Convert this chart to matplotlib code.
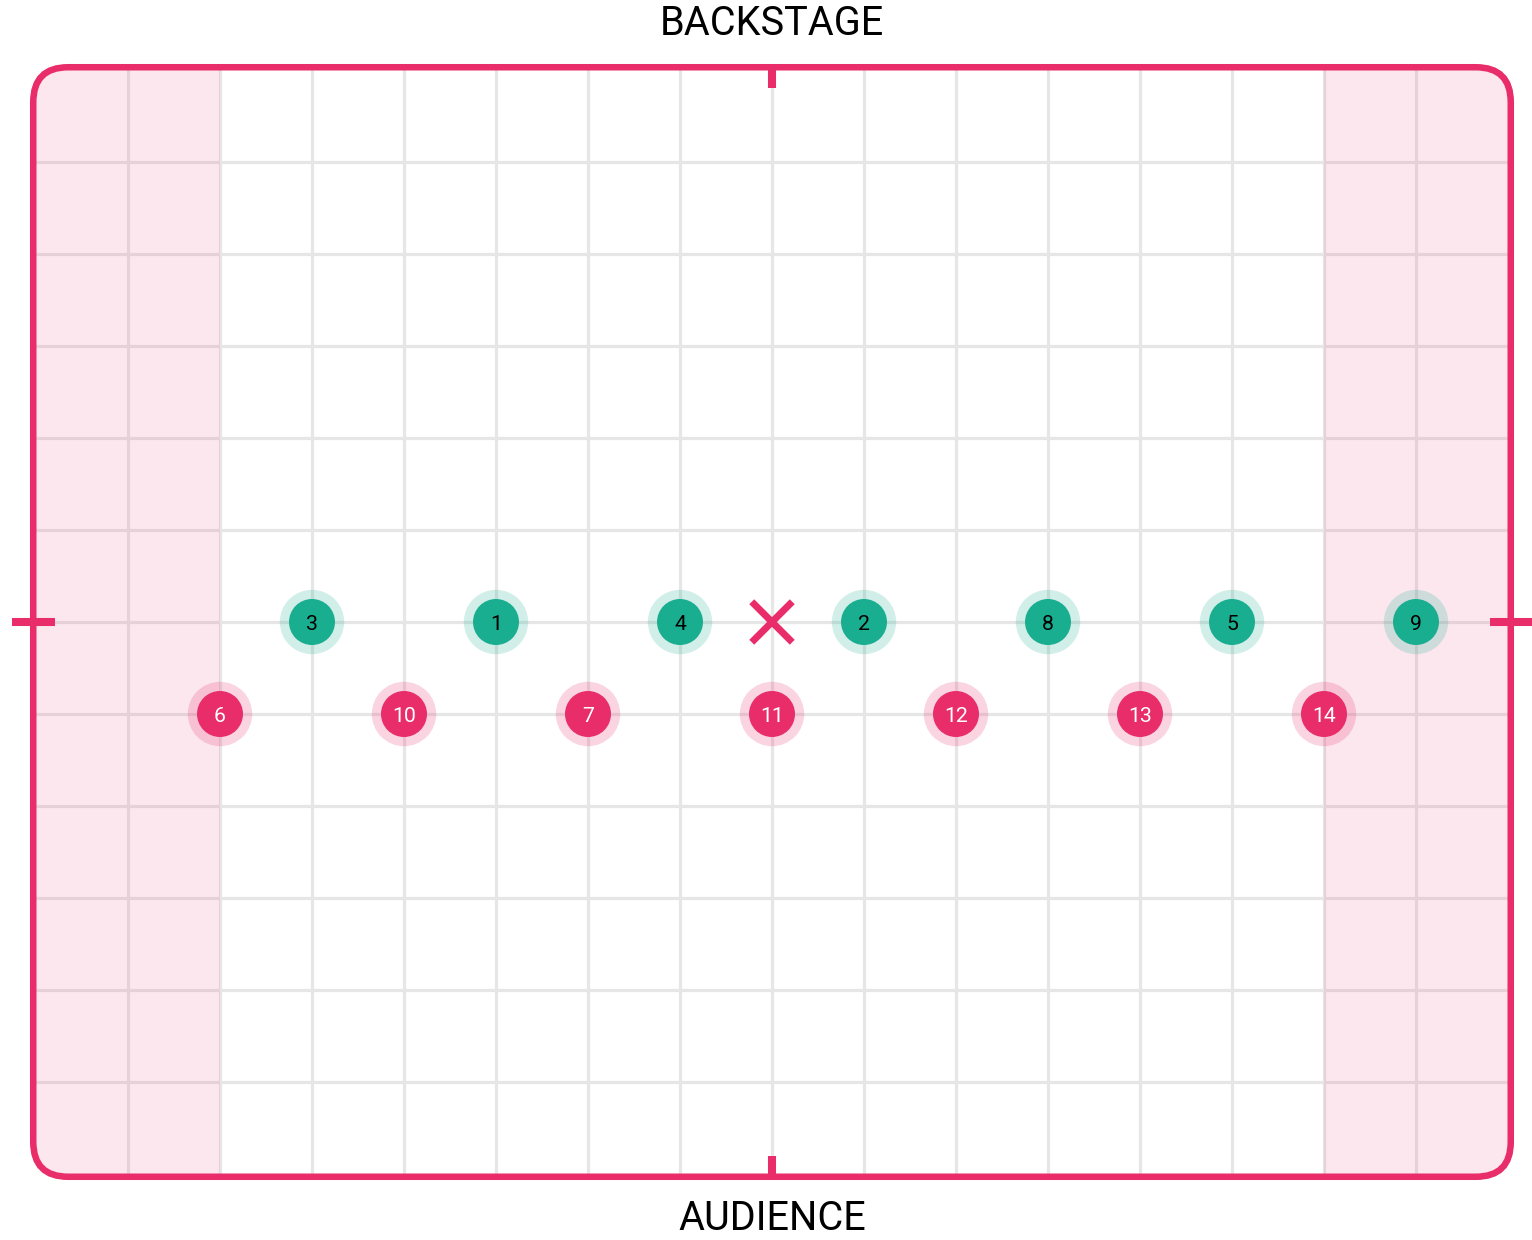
import numpy as np
import matplotlib
matplotlib.use('Agg')
import matplotlib.pyplot as plt
from matplotlib.patches import FancyBboxPatch, Rectangle, Circle

plt.rcParams['font.family'] = ['Roboto', 'DejaVu Sans']

# stage grid, in grid units (center of stage = 0,0)
cols = 8   # half width
rows = 6   # half depth
wing = 2   # shaded wing width on each side

# dancers
green_x = [-3, 1, -5, -1, 5, 3, 7]
green_y = [0, 0, 0, 0, 0, 0, 0]
green_labels = ['1', '2', '3', '4', '5', '8', '9']

pink_x = [-6, -2, -4, 0, 2, 4, 6]
pink_y = [-1, -1, -1, -1, -1, -1, -1]
pink_labels = ['6', '7', '10', '11', '12', '13', '14']

center_mark = (0, 0)

PINK = '#E92C6A'
GREEN = '#1AAE90'

fig = plt.figure(figsize=(15.32, 12.40), dpi=100)
ax = fig.add_axes([0, 0, 1, 1])
ax.set_xlim(-772 / 92, (1532 - 772) / 92)
ax.set_ylim(-(1240 - 622) / 92, 622 / 92)
ax.axis('off')

ext_x = cols + 0.03
ext_y = rows + 0.03
border = FancyBboxPatch((-ext_x, -ext_y), 2 * ext_x, 2 * ext_y,
                        boxstyle='round,pad=0,rounding_size=0.38',
                        fc='white', ec='none', zorder=0)
ax.add_patch(border)

# grid
for gx in range(-cols + 1, cols):
    ax.plot([gx, gx], [-ext_y, ext_y], color='#E6E6E6', lw=2.3, zorder=1)
for gy in range(-rows + 1, rows):
    ax.plot([-ext_x, ext_x], [gy, gy], color='#E6E6E6', lw=2.3, zorder=1)

# wings (translucent, over the grid)
for x0 in (-cols - 0.1, cols - wing):
    r = Rectangle((x0, -rows - 0.1), wing + 0.1, 2 * rows + 0.2, fc=PINK, alpha=0.11,
                  ec='none', zorder=2)
    ax.add_patch(r)
    r.set_clip_path(border)

# outline
outline = FancyBboxPatch((-ext_x, -ext_y), 2 * ext_x, 2 * ext_y,
                         boxstyle='round,pad=0,rounding_size=0.38',
                         fc='none', ec=PINK, lw=4.7, zorder=5)
ax.add_patch(outline)

# center ticks
tk = dict(color=PINK, lw=5.8, solid_capstyle='butt', zorder=5)
ax.plot([0, 0], [ext_y, ext_y - 0.23], **tk)
ax.plot([0, 0], [-ext_y, -ext_y + 0.23], **tk)
ax.plot([-(772 - 12) / 92, -(772 - 55) / 92], [0, 0], **tk)
ax.plot([(1490 - 772) / 92, (1540 - 772) / 92], [0, 0], **tk)

# center X
d = 0.22
ax.plot([center_mark[0] - d, center_mark[0] + d], [center_mark[1] - d, center_mark[1] + d],
        color=PINK, lw=5, solid_capstyle='butt', zorder=6)
ax.plot([center_mark[0] - d, center_mark[0] + d], [center_mark[1] + d, center_mark[1] - d],
        color=PINK, lw=5, solid_capstyle='butt', zorder=6)

def dancers(xs, ys, labels, color, txt_color):
    for x, y, lab in zip(xs, ys, labels):
        ax.add_patch(Circle((x, y), 0.35, fc=color, alpha=0.2, ec='none', zorder=6))
        ax.add_patch(Circle((x, y), 0.25, fc=color, ec='none', zorder=7))
        ax.text(x, y, lab, ha='center', va='center_baseline', fontsize=15.3,
                color=txt_color, zorder=8)

dancers(green_x, green_y, green_labels, GREEN, 'black')
dancers(pink_x, pink_y, pink_labels, PINK, 'white')

ax.text(0, 622 / 92 - 23.5 / 92, 'BACKSTAGE', ha='center', va='center', fontsize=28.5, color='black')
ax.text(0, -(1218.5 - 622) / 92, 'AUDIENCE', ha='center', va='center', fontsize=28.5, color='black')

fig.savefig('out.png', dpi=100)
